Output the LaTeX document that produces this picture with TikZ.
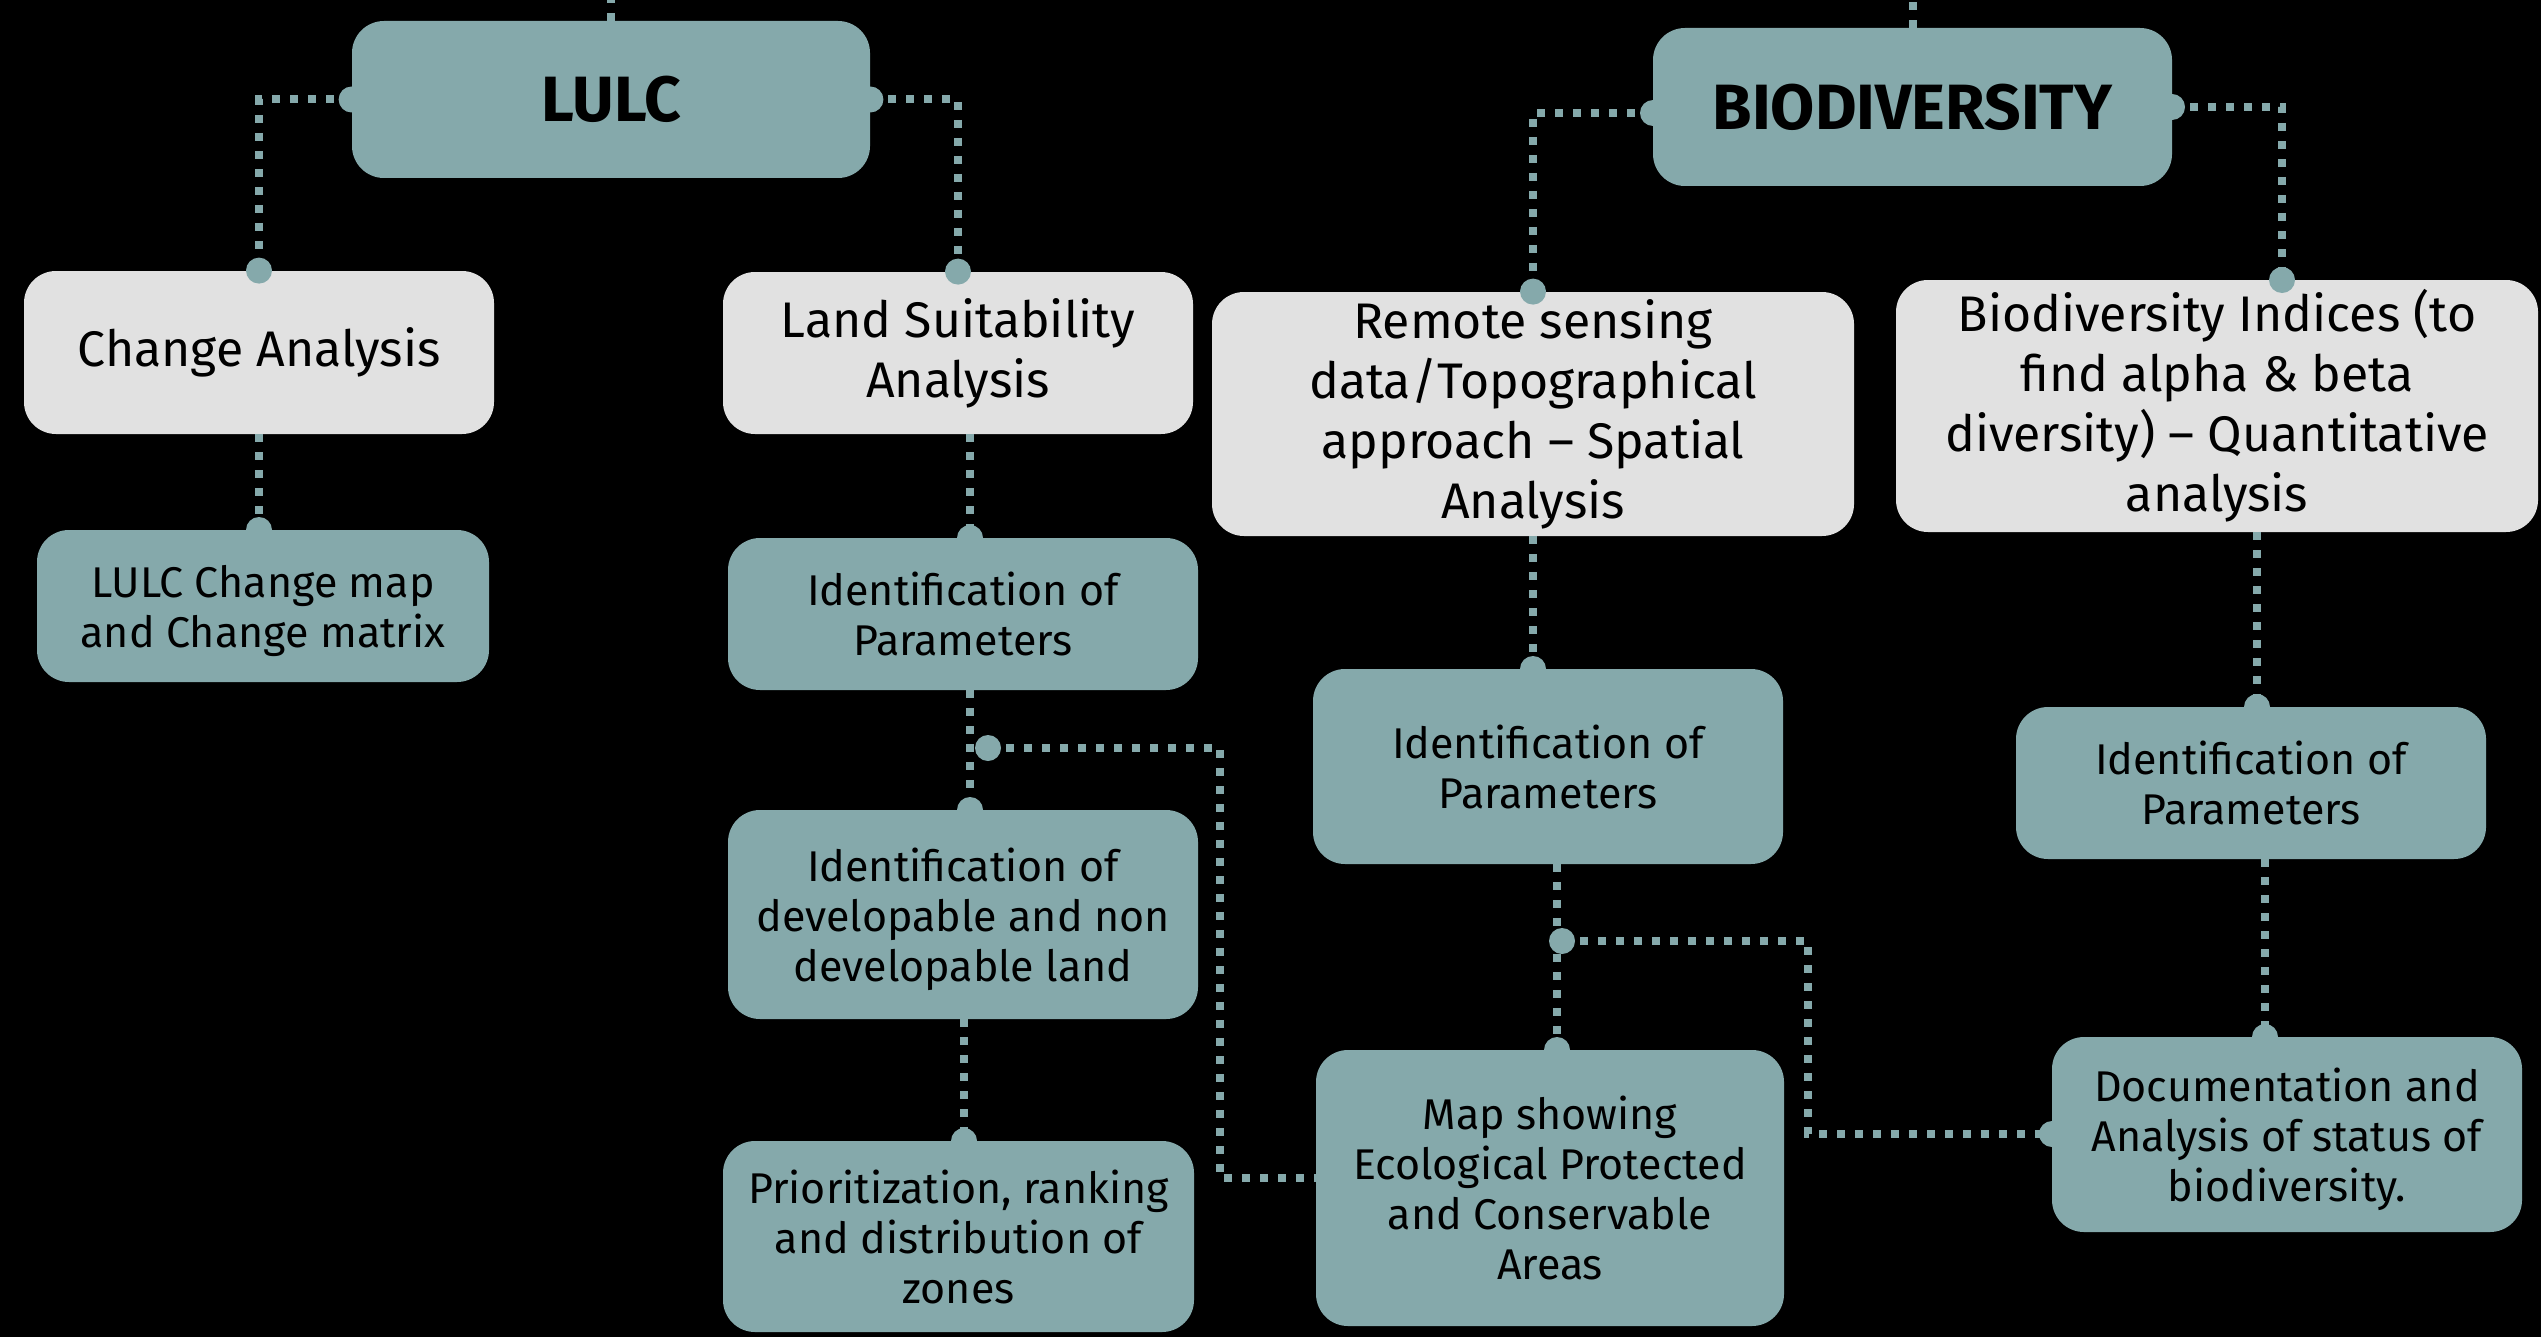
\documentclass[tikz,border=0pt]{standalone}
\usepackage{fontspec}
\setmainfont{Fira Sans}
\definecolor{teal1}{HTML}{85A9AB}
\definecolor{grey1}{HTML}{E1E1E1}
\begin{document}
\begin{tikzpicture}[x=0.5pt,y=-0.5pt,
  conn/.style={draw=teal1, line width=4pt, dash pattern=on 4pt off 5pt},
  tbox/.style={fill=teal1, rounded corners=16pt, align=center, inner sep=0pt, text=black,
    font=\fontsize{21.5}{25}\selectfont, text depth=0pt},
  gbox/.style={fill=grey1, rounded corners=16pt, align=center, inner sep=0pt, text=black,
    font=\fontsize{25}{30}\selectfont},
  titlebox/.style={fill=teal1, rounded corners=16pt, align=center, inner sep=0pt, text=black,
    font=\fontsize{32}{36}\selectfont\bfseries},
]
\fill[black] (0,0) rectangle (2541,1337);
\useasboundingbox (0,0) rectangle (2541,1337);

% nodes
\node[titlebox, minimum width=259pt, minimum height=78.5pt] (lulc) at (611,99.5) {LULC};
\node[titlebox, minimum width=259.5pt, minimum height=79pt] (bio) at (1912.5,107) {BIODIVERSITY};

\node[gbox, minimum width=235pt, minimum height=81.5pt] (ca) at (259,352.5) {Change Analysis};
\node[tbox, minimum width=226pt, minimum height=76pt] (lcm) at (263,606) {LULC Change map\\and Change matrix};

\node[gbox, minimum width=235pt, minimum height=81pt] (lsa) at (958,353) {Land Suitability\\Analysis};
\node[tbox, minimum width=235pt, minimum height=76pt] (ip1) at (963,614) {Identification of\\Parameters};
\node[tbox, minimum width=235pt, minimum height=104.5pt] (dev) at (963,914.5) {Identification of\\developable and non\\developable land};
\node[tbox, minimum width=235.5pt, minimum height=95.5pt] (pri) at (958.5,1236.5) {Prioritization, ranking\\and distribution of\\zones};

\node[gbox, minimum width=321pt, minimum height=122pt] (rs) at (1533,414) {Remote sensing\\data/Topographical\\approach -- Spatial\\Analysis};
\node[tbox, minimum width=235pt, minimum height=97.5pt] (ip2) at (1548,766.5) {Identification of\\Parameters};
\node[tbox, minimum width=234pt, minimum height=138pt] (map) at (1550,1188) {Map showing\\Ecological Protected\\and Conservable\\Areas};

\node[gbox, minimum width=321pt, minimum height=126pt] (bi) at (2217,406) {Biodiversity Indices (to\\find alpha \& beta\\diversity) -- Quantitative\\analysis};
\node[tbox, minimum width=235pt, minimum height=76pt] (ip3) at (2251,783) {Identification of\\Parameters};
\node[tbox, minimum width=235pt, minimum height=97.5pt] (doc) at (2287,1134.5) {Documentation and\\Analysis of status of\\biodiversity.};

% dot coordinates
\coordinate (d-lcm) at (259,530);
\coordinate (d-ip1) at (970,538);
\coordinate (d-dev) at (970,810);
\coordinate (d-br1) at (988,748);
\coordinate (d-pri) at (964,1141);
\coordinate (d-bl) at (1653,113);
\coordinate (d-br) at (2172,107);
\coordinate (d-bi) at (2282,280);
\coordinate (d-ip2) at (1533,669);
\coordinate (d-map) at (1557,1050);
\coordinate (d-br2) at (1562,941);
\coordinate (d-doc) at (2052,1134);
\coordinate (d-ip3) at (2257,707);
\coordinate (d-doc2) at (2265,1037);
\coordinate (d-mapw) at (1316,1178);

% connectors
\draw[conn] (lulc.north) -- ++(0,-21);
\draw[conn] (bio.north) -- ++(0,-28);
\draw[conn] (lulc.west) -| (ca.north);
\draw[conn] (lulc.east) -| (lsa.north);
\draw[conn] (ca.south) -- (d-lcm);
\draw[conn] (lsa.south -| d-ip1) -- (d-ip1);
\draw[conn] (ip1.south -| d-dev) -- (d-dev);
\draw[conn] (d-br1) -- ++(232,0) |- (d-mapw);
\draw[conn] (dev.south -| d-pri) -- (d-pri);
\draw[conn] (d-bl) -| (rs.north);
\draw[conn] (d-br) -| (d-bi);
\draw[conn] (rs.south) -- (d-ip2);
\draw[conn] (ip2.south -| d-map) -- (d-map);
\draw[conn] (d-br2) -- ++(246,0) |- (d-doc);
\draw[conn] (bi.south -| d-ip3) -- (d-ip3);
\draw[conn] (ip3.south -| d-doc2) -- (d-doc2);

% dots
\foreach \p in {lulc.west, lulc.east, ca.north, lsa.north, rs.north,
  d-lcm, d-ip1, d-dev, d-br1, d-pri, d-bl, d-br, d-bi, d-ip2, d-map, d-br2, d-doc, d-ip3, d-doc2}
  \fill[teal1] (\p) circle[radius=6.5pt];
\end{tikzpicture}
\end{document}
